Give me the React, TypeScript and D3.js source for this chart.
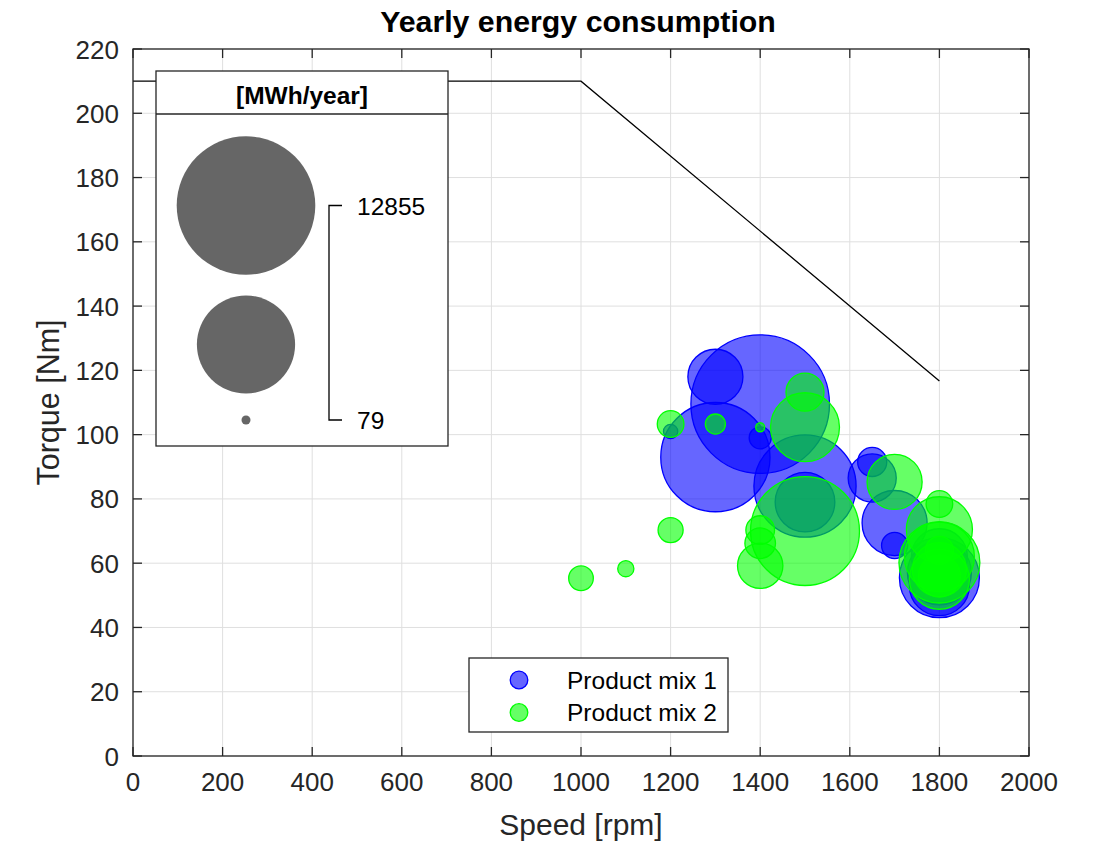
import React from "react";
import * as d3 from "d3";

// ---- Data ----
const mix1Speed = [1400, 1300, 1300, 1400, 1500, 1500, 1200, 1650, 1650, 1700, 1700, 1800, 1800, 1800, 1800];
const mix1Torque = [109.5, 118, 93, 99, 84, 79, 101, 91.5, 86.5, 72.5, 65.5, 55.5, 57, 53, 62];
const mix1Energy = [12855, 2050, 8000, 350, 7000, 2400, 160, 590, 1570, 2850, 480, 4300, 2760, 2430, 2120];

const mix2Speed = [1000, 1100, 1200, 1200, 1300, 1400, 1400, 1400, 1400, 1500, 1500, 1500, 1700, 1800, 1800, 1800, 1800, 1800, 1800, 1800, 1800];
const mix2Torque = [55.3, 58.3, 103.3, 70.3, 103.3, 102.3, 70.3, 66.2, 59.2, 113.2, 102.3, 70, 85.3, 78.4, 70.4, 60.2, 62, 56, 58, 64, 55];
const mix2Energy = [430, 200, 500, 445, 295, 79, 575, 650, 1400, 990, 3200, 7950, 2050, 500, 2940, 4400, 3300, 1200, 1970, 550, 2430];

const limitSpeed = [0, 1000, 1800];
const limitTorque = [210, 210, 116.7];

const xTicks = [0, 200, 400, 600, 800, 1000, 1200, 1400, 1600, 1800, 2000];
const yTicks = [0, 20, 40, 60, 80, 100, 120, 140, 160, 180, 200, 220];

const seriesNames = ["Product mix 1", "Product mix 2"];
const seriesColors = ["#0000ff", "#00ff00"];
const sizeLegendValues = [12855, 6467, 79];

export default function App() {
  const W = 1105, H = 842;
  const L = 133, R = 1029, T = 49, B = 756;
  const x = d3.scaleLinear().domain([0, 2000]).range([L, R]);
  const y = d3.scaleLinear().domain([0, 220]).range([B, T]);
  const rs = d3.scaleRadial().domain([79, 12855]).range([4.5, 69.3]);
  const axisColor = "#262626";
  const font = "Liberation Sans, Arial, sans-serif";
  const tickLen = 9;

  const series = [
    { sp: mix1Speed, tq: mix1Torque, en: mix1Energy },
    { sp: mix2Speed, tq: mix2Torque, en: mix2Energy },
  ];

  const line = d3.line<number>().x((_, i) => x(limitSpeed[i])).y((d) => y(d));

  // size legend box
  const lbL = 156, lbR = 448, lbT = 71, lbHead = 114, lbB = 446;
  const lcx = 246;
  const lcy = [205.5, 344.5, 420];

  return (
    <svg width={W} height={H} style={{ position: "absolute", left: 0, top: 0, background: "#fff" }} fontFamily={font}>
      <rect x={0} y={0} width={W} height={H} fill="#fff" />
      {/* grid */}
      {xTicks.map((t) => (
        <line key={"gx" + t} x1={x(t)} x2={x(t)} y1={T} y2={B} stroke="#dfdfdf" strokeWidth={1} />
      ))}
      {yTicks.map((t) => (
        <line key={"gy" + t} x1={L} x2={R} y1={y(t)} y2={y(t)} stroke="#dfdfdf" strokeWidth={1} />
      ))}
      {/* limit line */}
      <path d={line(limitTorque) || ""} fill="none" stroke="#000" strokeWidth={1.3} />
      {/* bubbles */}
      {series.map((s, si) => {
        const idx = d3.range(s.sp.length).sort((a, b) => s.en[b] - s.en[a]);
        return (
          <g key={"s" + si}>
            {idx.map((i) => (
              <circle
                key={i}
                cx={x(s.sp[i])}
                cy={y(s.tq[i])}
                r={rs(s.en[i])}
                fill={seriesColors[si]}
                fillOpacity={0.6}
                stroke={seriesColors[si]}
                strokeWidth={1.3}
              />
            ))}
          </g>
        );
      })}
      {/* axes box */}
      <rect x={L} y={T} width={R - L} height={B - T} fill="none" stroke={axisColor} strokeWidth={1.3} />
      {xTicks.map((t) => (
        <g key={"tx" + t}>
          <line x1={x(t)} x2={x(t)} y1={B} y2={B - tickLen} stroke={axisColor} strokeWidth={1.3} />
          <line x1={x(t)} x2={x(t)} y1={T} y2={T + tickLen} stroke={axisColor} strokeWidth={1.3} />
          <text x={x(t)} y={B + 35} textAnchor="middle" fontSize={26} fill={axisColor}>{t}</text>
        </g>
      ))}
      {yTicks.map((t) => (
        <g key={"ty" + t}>
          <line x1={L} x2={L + tickLen} y1={y(t)} y2={y(t)} stroke={axisColor} strokeWidth={1.3} />
          <line x1={R} x2={R - tickLen} y1={y(t)} y2={y(t)} stroke={axisColor} strokeWidth={1.3} />
          <text x={L - 14} y={y(t) + 9.5} textAnchor="end" fontSize={26} fill={axisColor}>{t}</text>
        </g>
      ))}
      {/* labels */}
      <text x={(L + R) / 2 - 3} y={32} textAnchor="middle" fontSize={30.3} fontWeight="bold" fill="#000">Yearly energy consumption</text>
      <text x={(L + R) / 2} y={835} textAnchor="middle" fontSize={30} fill={axisColor}>Speed [rpm]</text>
      <text transform={`translate(59, ${(T + B) / 2}) rotate(-90)`} textAnchor="middle" fontSize={30.5} fill={axisColor}>Torque [Nm]</text>

      {/* size legend */}
      <rect x={lbL} y={lbT} width={lbR - lbL} height={lbB - lbT} fill="#fff" stroke={axisColor} strokeWidth={1.3} />
      <line x1={lbL} x2={lbR} y1={lbHead} y2={lbHead} stroke={axisColor} strokeWidth={1.3} />
      <text x={(lbL + lbR) / 2} y={104} textAnchor="middle" fontSize={24.5} fontWeight="bold" fill="#000">[MWh/year]</text>
      {sizeLegendValues.map((v, i) => (
        <circle key={"lb" + i} cx={lcx} cy={lcy[i]} r={rs(v)} fill="#666666" />
      ))}
      <path d={`M342,${lcy[0]} H329 V${lcy[2]} H342`} fill="none" stroke="#000" strokeWidth={1.3} />
      <text x={357} y={lcy[0] + 9} fontSize={24.5} fill="#000">{sizeLegendValues[0]}</text>
      <text x={357} y={lcy[2] + 9} fontSize={24.5} fill="#000">{sizeLegendValues[2]}</text>

      {/* series legend */}
      <rect x={469} y={658} width={259} height={74} fill="#fff" stroke={axisColor} strokeWidth={1.3} />
      {seriesNames.map((n, i) => (
        <g key={"lg" + i}>
          <circle cx={519} cy={680 + i * 32.5} r={8.8} fill={seriesColors[i]} fillOpacity={0.6} stroke={seriesColors[i]} strokeWidth={1.3} />
          <text x={567} y={680 + i * 32.5 + 8.5} fontSize={24.5} fill="#000">{n}</text>
        </g>
      ))}
    </svg>
  );
}
